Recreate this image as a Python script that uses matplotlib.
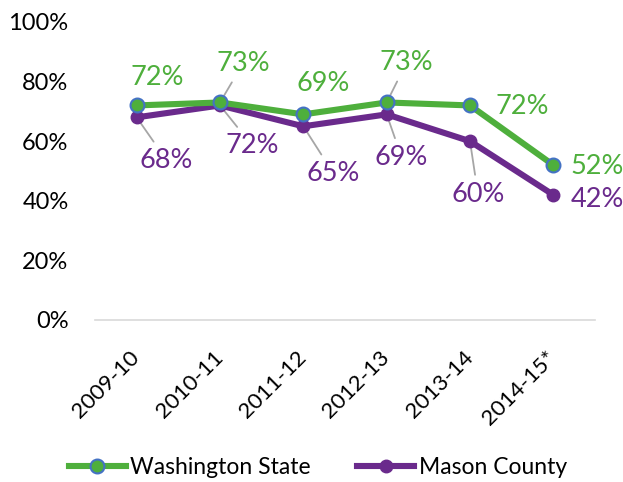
import matplotlib
matplotlib.use("Agg")
import matplotlib.pyplot as plt

plt.rcParams['font.family'] = ['Lato', 'DejaVu Sans']

years = ["2009-10", "2010-11", "2011-12", "2012-13", "2013-14", "2014-15*"]
washington = [72, 73, 69, 73, 72, 52]
mason = [68, 72, 65, 69, 60, 42]

green = '#4EAF3C'
purple = '#6A2A8C'
blue_edge = '#4472C4'

# label offsets in pixels from each point, and whether a leader line is drawn
wa_offsets = [(21, 28), (23, 39), (20, 31), (20, 40), (52, -1), (44, -1)]
wa_leader = [False, True, False, True, False, False]
mc_offsets = [(30, -43), (32, -40), (30, -47), (15, -43), (8, -53), (44, -5)]
mc_leader = [True, True, True, True, True, False]

fig = plt.figure(figsize=(6.23, 4.82), dpi=100)
ax = fig.add_axes([95 / 623, 1 - 320 / 482, 500 / 623, 298 / 482])

x = list(range(len(years)))
ax.plot(x, washington, color=green, lw=4.4, marker='o', markersize=10,
        markerfacecolor=green, markeredgecolor=blue_edge, markeredgewidth=1.5,
        label='Washington State', zorder=3)
ax.plot(x, mason, color=purple, lw=4.4, marker='o', markersize=9,
        markerfacecolor=purple, markeredgecolor=purple,
        label='Mason County', zorder=2)


def add_labels(values, offsets, leaders, color):
    for i, v in enumerate(values):
        arrow = None
        if leaders[i]:
            arrow = dict(arrowstyle='-', color='#A6A6A6', lw=1.3,
                         shrinkA=3, shrinkB=0)
        ax.annotate(f"{v}%", xy=(i, v), xytext=offsets[i],
                    textcoords='offset pixels', ha='center', va='center',
                    fontsize=19.5, color=color, arrowprops=arrow, zorder=1)


add_labels(washington, wa_offsets, wa_leader, green)
add_labels(mason, mc_offsets, mc_leader, purple)

ax.set_xlim(-0.5, 5.5)
ax.set_ylim(0, 100)
ax.set_yticks(range(0, 101, 20))
ax.set_yticklabels([f"{t}%" for t in range(0, 101, 20)], fontsize=17)
ax.set_xticks(x)
ax.set_xticklabels(years, fontsize=16, rotation=45, ha='right',
                   rotation_mode='anchor', va='center')
ax.tick_params(axis='both', length=0)
ax.tick_params(axis='y', pad=19)
ax.tick_params(axis='x', pad=25)
for s in ['top', 'right', 'left']:
    ax.spines[s].set_visible(False)
ax.spines['bottom'].set_color('#D9D9D9')
ax.spines['bottom'].set_linewidth(1.2)

fig.legend(loc='center', bbox_to_anchor=(0.51, 0.031), ncol=2,
           frameon=False, fontsize=16.5, handlelength=2.5, columnspacing=2.0,
           handletextpad=0.2)

fig.savefig("out.png", dpi=100)
